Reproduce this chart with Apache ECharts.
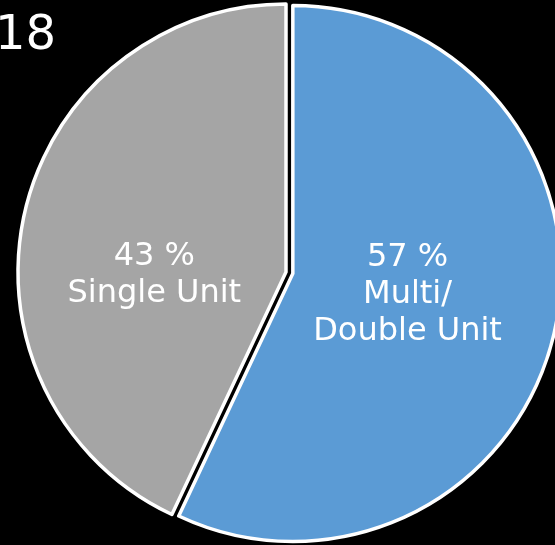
<!DOCTYPE html>
<html>
<head>
<meta charset="utf-8">
<script src="https://cdn.jsdelivr.net/npm/echarts@6/dist/echarts.min.js"></script>
<style>
html,body{margin:0;padding:0;background:#000;}
#chart{width:555px;height:545px;}
</style>
</head>
<body>
<div id="chart"></div>
<script>
// Data
const titleText = "2018";
const categories = ["Multi/\nDouble Unit", "Single Unit"];
const values = [57, 43];
const colors = ["#5b9bd5", "#a5a5a5"];

const chart = echarts.init(document.getElementById('chart'), null, {renderer: 'canvas'});
const labelShift = [[-19, -9], [2, 33]];

chart.setOption({
  backgroundColor: '#000000',
  animation: false,
  graphic: [{
    type: 'text',
    left: -66,
    top: 13,
    style: {
      text: titleText,
      fill: '#ffffff',
      font: '48px "DejaVu Sans"'
    }
  }],
  series: [{
    type: 'pie',
    center: [286, 272],
    radius: 268,
    startAngle: 90,
    clockwise: true,
    selectedMode: 'single',
    selectedOffset: 7,
    emphasis: {disabled: true},
    itemStyle: {borderColor: '#ffffff', borderWidth: 3.5},
    label: {
      show: true,
      position: 'inside',
      color: '#ffffff',
      fontFamily: 'DejaVu Sans',
      fontSize: 32,
      lineHeight: 37,
      align: 'center',
      formatter: function (p) { return p.value + ' %\n' + p.name; }
    },
    labelLine: {show: false},
    labelLayout: function (p) {
      const s = labelShift[p.dataIndex];
      return {dx: s[0], dy: s[1]};
    },
    data: categories.map(function (c, i) {
      return {name: c, value: values[i], selected: i === 0, itemStyle: {color: colors[i]}};
    })
  }]
});
</script>
</body>
</html>
